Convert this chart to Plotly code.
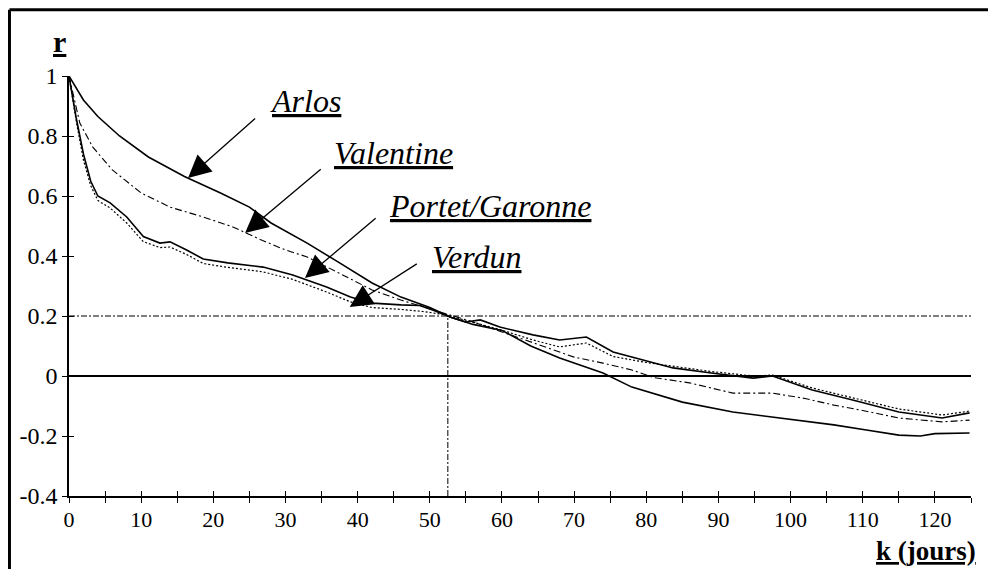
import plotly.graph_objects as go

# ---------------- data ----------------
arlos_k = [0, 2, 4, 7, 11, 16, 21, 25, 28, 33, 37.5, 42, 46, 50, 53, 56, 60, 64, 68, 71, 74, 78,
           85, 92, 97.5, 102, 106, 110.5, 115, 118, 120, 124.8]
arlos_r = [1.0, 0.92, 0.865, 0.80, 0.73, 0.665, 0.61, 0.563, 0.51, 0.443, 0.377, 0.31, 0.263, 0.228,
           0.195, 0.172, 0.152, 0.10, 0.06, 0.035, 0.01, -0.037, -0.087, -0.12, -0.137, -0.15,
           -0.163, -0.18, -0.197, -0.2, -0.192, -0.19]

valentine_k = [0, 1.5, 3.3, 6, 10, 14, 18.6, 22.7, 26.5, 30, 33, 37.5, 42, 46, 49.6, 53, 56, 60, 64,
               70, 74, 78, 81, 86, 92, 97.5, 102, 106, 110, 115, 121, 124.8]
valentine_r = [1.0, 0.843, 0.763, 0.687, 0.61, 0.563, 0.53, 0.497, 0.455, 0.42, 0.397, 0.343, 0.287,
               0.253, 0.227, 0.2, 0.18, 0.147, 0.113, 0.063, 0.043, 0.02, -0.005, -0.023, -0.057,
               -0.057, -0.075, -0.097, -0.115, -0.14, -0.153, -0.147]

portet_k = [0, 1, 2, 3, 4, 5.7, 8, 10.3, 12.6, 14, 16.3, 18.6, 22, 26.9, 31, 33, 35.7, 39, 42, 46,
            48.6, 50.4, 53, 55, 57, 59.7, 64.3, 68, 71.7, 75.4, 80, 83.7, 89, 94.8, 97.5, 103,
            108.6, 115, 121, 124.8]
portet_r = [1.0, 0.86, 0.74, 0.65, 0.60, 0.577, 0.53, 0.465, 0.443, 0.447, 0.42, 0.39, 0.377, 0.363,
            0.337, 0.32, 0.297, 0.263, 0.243, 0.237, 0.235, 0.22, 0.195, 0.18, 0.187, 0.163, 0.137,
            0.12, 0.13, 0.08, 0.05, 0.027, 0.01, -0.007, 0.0, -0.047, -0.08, -0.12, -0.14, -0.123]

verdun_k = [0, 1, 2, 3, 4, 5.7, 8, 10.3, 12.6, 14, 16.3, 18.6, 22, 26.9, 31, 33, 35.7, 39, 42, 46,
            49, 52, 55, 59.7, 64.3, 68, 71.7, 75.4, 80, 83.7, 89, 94.8, 97.5, 103, 108.6, 115,
            121, 124.8]
verdun_r = [1.0, 0.85, 0.72, 0.635, 0.585, 0.56, 0.51, 0.448, 0.428, 0.43, 0.405, 0.375, 0.362, 0.347,
            0.322, 0.305, 0.28, 0.247, 0.228, 0.222, 0.215, 0.205, 0.185, 0.155, 0.12, 0.097, 0.11,
            0.065, 0.045, 0.033, 0.015, 0.0, 0.003, -0.04, -0.072, -0.11, -0.13, -0.117]

x_ticks = list(range(0, 126, 5))
x_labels = [str(v) if v % 10 == 0 and v <= 120 else "" for v in x_ticks]
y_ticks = [-0.4, -0.2, 0, 0.2, 0.4, 0.6, 0.8, 1]
y_labels = ["-0.4", "-0.2", "0", "0.2", "0.4", "0.6", "0.8", "1"]

threshold_r = 0.2
threshold_k = 52.5

# label annotations: (text, text_left_k, text_r, tail_k, tail_r, head_k, head_r)
labels = [
    ("Arlos", 27.6, 0.918, 26.0, 0.863, 16.5, 0.66),
    ("Valentine", 36.4, 0.745, 35.1, 0.693, 24.4, 0.477),
    ("Portet/Garonne", 44.1, 0.567, 42.7, 0.53, 32.7, 0.327),
    ("Verdun", 50.0, 0.398, 48.4, 0.377, 38.9, 0.23),
]

FONT = "Liberation Serif"
K_MAX = 125

fig = go.Figure()

fig.add_trace(go.Scatter(x=arlos_k, y=arlos_r, mode="lines", name="Arlos",
                         line=dict(color="black", width=1.6)))
fig.add_trace(go.Scatter(x=valentine_k, y=valentine_r, mode="lines", name="Valentine",
                         line=dict(color="black", width=1.1, dash="7px,3px,2px,3px")))
fig.add_trace(go.Scatter(x=portet_k, y=portet_r, mode="lines", name="Portet/Garonne",
                         line=dict(color="black", width=1.6)))
fig.add_trace(go.Scatter(x=verdun_k, y=verdun_r, mode="lines", name="Verdun",
                         line=dict(color="black", width=1.2, dash="2px,2px")))

# reference lines
fig.add_shape(type="line", x0=0, x1=K_MAX, y0=0, y1=0, xref="x", yref="y",
              line=dict(color="black", width=1.8))
fig.add_shape(type="line", x0=0, x1=K_MAX, y0=threshold_r, y1=threshold_r, xref="x", yref="y",
              line=dict(color="black", width=1.2, dash="6px,2px,2px,2px"))
fig.add_shape(type="line", x0=threshold_k, x1=threshold_k, y0=-0.4, y1=threshold_r,
              xref="x", yref="y", line=dict(color="black", width=1, dash="6px,2px,2px,2px"))

# frame (top and left borders of the picture)
fig.add_shape(type="line", xref="paper", yref="paper", x0=-0.066, x1=1.05, y0=1.158, y1=1.158,
              line=dict(color="black", width=3))
fig.add_shape(type="line", xref="paper", yref="paper", x0=-0.066, x1=-0.066, y0=1.158, y1=-0.2,
              line=dict(color="black", width=3))

for text, tk, tr, ak, ar, hk, hr in labels:
    fig.add_annotation(x=hk, y=hr, ax=ak, ay=ar, xref="x", yref="y", axref="x", ayref="y",
                       text="", showarrow=True, arrowhead=2, arrowsize=3.5, arrowwidth=1.3,
                       arrowcolor="black", standoff=0, startstandoff=0)
    fig.add_annotation(x=tk, y=tr, xref="x", yref="y", xanchor="left", yanchor="middle",
                       text="<i><u>" + text + "</u></i>",
                       showarrow=False, font=dict(family=FONT, size=32, color="black"))

fig.add_annotation(x=-0.0105, y=1.081, xref="paper", yref="paper", xanchor="center",
                   yanchor="middle", text="<b><u>r</u></b>",
                   showarrow=False, font=dict(family=FONT, size=30, color="black"))
fig.add_annotation(x=1.0078, y=-0.131, xref="paper", yref="paper", xanchor="right",
                   yanchor="middle", text="<b><u>k (jours)</u></b>", showarrow=False,
                   font=dict(family=FONT, size=27, color="black"))

# the page body adds an 8px offset, so the figure is 8px smaller and margins shifted
fig.update_layout(
    width=988, height=561,
    margin=dict(l=61, r=25, t=68, b=73, autoexpand=False),
    paper_bgcolor="white", plot_bgcolor="white",
    showlegend=False,
    font=dict(family=FONT, size=23, color="black"),
    xaxis=dict(range=[0, K_MAX], tickvals=x_ticks, ticktext=x_labels, ticks="outside",
               ticklen=5, tickwidth=1.3, tickcolor="black", showgrid=False, zeroline=False,
               showline=True, linecolor="black", linewidth=2,
               tickfont=dict(family=FONT, size=22), ticklabelstandoff=-2),
    yaxis=dict(range=[-0.4, 1], tickvals=y_ticks, ticktext=y_labels, ticks="outside",
               ticklen=5, tickwidth=1.3, tickcolor="black", showgrid=False, zeroline=False,
               showline=True, linecolor="black", linewidth=1.6,
               tickfont=dict(family=FONT, size=24), ticklabelstandoff=0),
    xaxis2=dict(range=[0, K_MAX], tickvals=x_ticks, ticks="inside", ticklen=5, tickwidth=1.3,
                tickcolor="black", showticklabels=False, showgrid=False, zeroline=False,
                overlaying="x", anchor="y", side="bottom"),
    yaxis2=dict(range=[-0.4, 1], tickvals=y_ticks, ticks="inside", ticklen=5, tickwidth=1.3,
                tickcolor="black", showticklabels=False, showgrid=False, zeroline=False,
                overlaying="y", anchor="x", side="left"),
)

# invisible trace to activate the overlay axes with crossing ticks
fig.add_trace(go.Scatter(x=[0], y=[0], xaxis="x2", yaxis="y2", mode="markers",
                         marker=dict(opacity=0), hoverinfo="skip", showlegend=False))

fig.write_html("out.html")
